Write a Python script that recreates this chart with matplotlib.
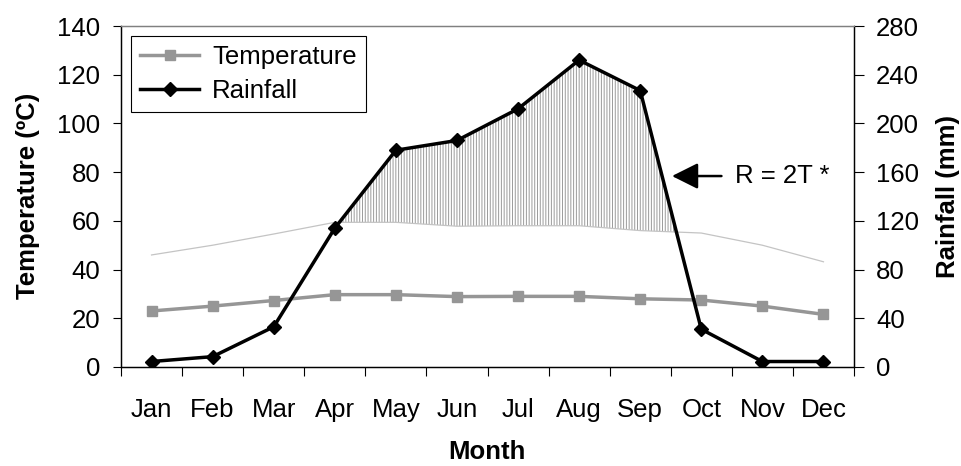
import numpy as np
import matplotlib
matplotlib.use("Agg")
import matplotlib.pyplot as plt

plt.rcParams['font.family'] = ['Liberation Sans', 'DejaVu Sans']
plt.rcParams['hatch.linewidth'] = 0.7

# monthly climate data
months = ['Jan', 'Feb', 'Mar', 'Apr', 'May', 'Jun', 'Jul', 'Aug', 'Sep', 'Oct', 'Nov', 'Dec']
temperature = [23, 25, 27.3, 29.7, 29.7, 28.9, 29, 29, 28, 27.5, 25, 21.6]
rainfall = [4.5, 8.5, 33, 114, 178, 186, 212, 252, 227, 31, 4.5, 4.5]

x = np.arange(len(months))
temp = np.array(temperature)
rain = np.array(rainfall)
two_t = 2 * temp

fig = plt.figure(figsize=(9.61, 4.66), dpi=100)
ax = fig.add_axes([121 / 961, 1 - 367 / 466, 733 / 961, 341 / 466])
ax2 = ax.twinx()

# hatched area where rainfall exceeds 2T (rainfall / 2 on left scale)
ax.fill_between(x, rain / 2, two_t, where=(rain / 2 > two_t), interpolate=True,
                facecolor='none', edgecolor='#9a9a9a', hatch='||||||', linewidth=0, zorder=1)
ax.plot(x, two_t, color='#c4c4c4', lw=0.9, zorder=2)
l1, = ax.plot(x, temp, color='#969696', lw=2.5, marker='s', ms=7.2, zorder=3, label='Temperature')
l2, = ax2.plot(x, rain, color='black', lw=2.5, marker='D', ms=7.5, zorder=3, label='Rainfall')

ax.set_xlim(-0.5, 11.5)
ax.set_ylim(0, 140)
ax2.set_ylim(0, 280)
ax.set_yticks(np.arange(0, 141, 20))
ax2.set_yticks(np.arange(0, 281, 40))

ax.set_xticks(x)
ax.set_xticklabels(months)
ax.set_xticks(np.arange(-0.5, 12, 1), minor=True)
ax.tick_params(axis='x', which='major', length=0, pad=22, labelsize=18.5)
ax.tick_params(axis='x', which='minor', length=6.5, width=0.8, direction='out')
ax.tick_params(axis='y', length=6, width=0.8, pad=9, labelsize=18.5)
ax2.tick_params(axis='y', length=7, width=0.8, pad=9, labelsize=18.5)

for a in (ax, ax2):
    a.spines['top'].set_color('#808080')
    a.spines['top'].set_linewidth(0.9)
    a.spines['left'].set_linewidth(0.9)
    a.spines['right'].set_linewidth(0.9)
    a.spines['bottom'].set_linewidth(0.9)

fig.text(28 / 961, 1 - 196 / 466, 'Temperature (ºC)', rotation=90, ha='center', va='center',
         fontsize=18.5, fontweight='bold')
fig.text(948 / 961, 1 - 196 / 466, 'Rainfall (mm)', rotation=90, ha='center', va='center',
         fontsize=18.5, fontweight='bold')
fig.text(487 / 961, 2 / 466, 'Month', ha='center', va='bottom',
         fontsize=18.5, fontweight='bold')

# R = 2T annotation
ax.annotate('', xy=(8.52, 78.4), xytext=(9.33, 78.4),
            arrowprops=dict(arrowstyle='-|>,head_length=0.8,head_width=0.4',
                            color='black', lw=1.8, mutation_scale=20, shrinkA=0, shrinkB=0))
ax.text(9.55, 78.4, 'R = 2T *', fontsize=18.5, va='center', ha='left')

leg = ax2.legend(handles=[l1, l2], loc='upper left',
                 bbox_to_anchor=(131 / 961, 1 - 36 / 466), bbox_transform=fig.transFigure,
                 borderaxespad=0, fontsize=18.5, fancybox=False, framealpha=1,
                 edgecolor='black', handlelength=2.3, handletextpad=0.5,
                 labelspacing=0.4, borderpad=0.35)
leg.get_frame().set_linewidth(0.8)

fig.savefig('out.png', dpi=100)
